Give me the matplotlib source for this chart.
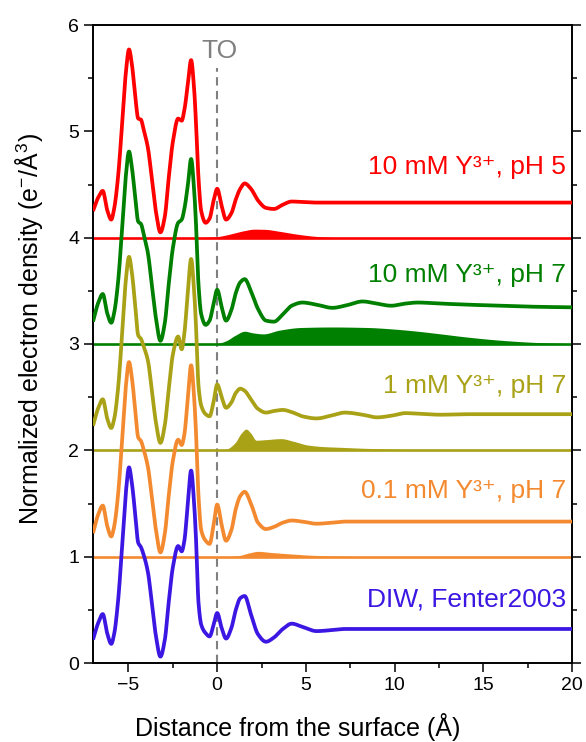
import numpy as np
import matplotlib
matplotlib.use("Agg")
import matplotlib.pyplot as plt

plt.rcParams['font.family'] = ['Liberation Sans', 'DejaVu Sans']
plt.rcParams['mathtext.fontset'] = 'custom'
plt.rcParams['mathtext.rm'] = 'Liberation Sans'
plt.rcParams['mathtext.it'] = 'Liberation Sans:italic'
plt.rcParams['mathtext.default'] = 'regular'

# ---------------- data ----------------
z = [-7.0, -6.7, -6.45, -6.2, -5.97, -5.8, -5.6, -5.32, -5.15, -4.97,
     -4.8, -4.62, -4.45, -4.3, -4.15, -3.9, -3.68, -3.45, -3.2, -2.95,
     -2.74, -2.5, -2.2, -2.0, -1.85, -1.65, -1.47, -1.3, -1.2, -1.05,
     -0.9, -0.65, -0.43, -0.2, 0.0, 0.25, 0.5, 0.8, 1.05, 1.3,
     1.55, 1.9, 2.3, 2.75, 3.2, 3.7, 4.2, 4.8, 5.6, 6.5,
     7.2, 8.2, 9.0, 9.8, 10.6, 11.3, 12.6, 14.1, 16.0, 18.0, 20.0]

rho_diw = [0.22, 0.38, 0.46, 0.28, 0.18, 0.28, 0.56, 1.19, 1.60, 1.84,
           1.68, 1.40, 1.13, 1.09, 1.02, 0.85, 0.56, 0.25, 0.06, 0.22,
           0.56, 0.90, 1.10, 1.05, 1.15, 1.51, 1.81, 1.50, 1.19, 0.56,
           0.36, 0.28, 0.25, 0.36, 0.47, 0.33, 0.23, 0.33, 0.50, 0.61,
           0.63, 0.46, 0.27, 0.20, 0.24, 0.32, 0.37, 0.34, 0.30, 0.31,
           0.32, 0.32, 0.32, 0.32, 0.32, 0.32, 0.32, 0.32, 0.32, 0.32, 0.32]

rho_01mM = [1.22, 1.40, 1.48, 1.29, 1.19, 1.29, 1.56, 2.19, 2.60, 2.83,
            2.67, 2.38, 2.12, 2.09, 2.01, 1.84, 1.55, 1.25, 1.04, 1.22,
            1.56, 1.90, 2.10, 2.05, 2.15, 2.50, 2.80, 2.50, 2.19, 1.56,
            1.25, 1.15, 1.12, 1.30, 1.49, 1.30, 1.15, 1.25, 1.45, 1.57,
            1.61, 1.50, 1.32, 1.26, 1.28, 1.32, 1.34, 1.33, 1.31, 1.32,
            1.33, 1.33, 1.33, 1.33, 1.33, 1.33, 1.33, 1.33, 1.33, 1.33, 1.33]

rho_1mM = [2.23, 2.40, 2.48, 2.30, 2.21, 2.30, 2.56, 3.19, 3.60, 3.82,
           3.66, 3.36, 3.08, 3.05, 2.98, 2.84, 2.56, 2.26, 2.07, 2.24,
           2.56, 2.90, 3.07, 2.95, 3.10, 3.50, 3.80, 3.50, 3.19, 2.60,
           2.42, 2.34, 2.32, 2.46, 2.62, 2.50, 2.40, 2.45, 2.54, 2.58,
           2.56, 2.48, 2.39, 2.355, 2.37, 2.38, 2.36, 2.32, 2.30, 2.33,
           2.355, 2.335, 2.31, 2.325, 2.35, 2.345, 2.335, 2.34, 2.34, 2.34, 2.34]

rho_10mM_pH7 = [3.21, 3.39, 3.47, 3.29, 3.20, 3.30, 3.56, 4.18, 4.58, 4.81,
                4.65, 4.38, 4.15, 4.13, 4.04, 3.85, 3.55, 3.24, 3.03, 3.20,
                3.55, 3.90, 4.14, 4.17, 4.27, 4.50, 4.74, 4.45, 4.15, 3.55,
                3.28, 3.18, 3.22, 3.38, 3.51, 3.35, 3.22, 3.32, 3.48, 3.58,
                3.61, 3.50, 3.33, 3.22, 3.21, 3.28, 3.36, 3.39, 3.37, 3.34,
                3.36, 3.40, 3.38, 3.36, 3.38, 3.39, 3.38, 3.37, 3.36, 3.35, 3.345]

rho_10mM_pH5 = [4.25, 4.38, 4.44, 4.26, 4.17, 4.28, 4.55, 5.16, 5.55, 5.77,
                5.62, 5.33, 5.12, 5.11, 5.02, 4.84, 4.55, 4.24, 4.05, 4.20,
                4.55, 4.90, 5.12, 5.10, 5.20, 5.45, 5.67, 5.40, 5.10, 4.55,
                4.25, 4.14, 4.18, 4.35, 4.46, 4.30, 4.17, 4.23, 4.36, 4.46,
                4.51, 4.46, 4.35, 4.28, 4.27, 4.31, 4.34, 4.335, 4.33, 4.33,
                4.33, 4.33, 4.33, 4.33, 4.33, 4.33, 4.33, 4.33, 4.33, 4.33, 4.33]

# Y-ion distributions (filled), heights above their baselines
z_y01 = [0.5, 1.2, 1.8, 2.3, 3.0, 4.2, 5.5, 7.0, 8.5]
y_y01 = [0.0, 0.01, 0.035, 0.05, 0.04, 0.025, 0.012, 0.004, 0.0]

z_y1 = [0.0, 0.5, 1.0, 1.35, 1.63, 1.9, 2.2, 2.7, 3.6, 4.3, 5.1, 6.0, 7.0, 8.5, 9.8, 11.5, 13.0]
y_y1 = [0.0, 0.01, 0.07, 0.16, 0.2, 0.16, 0.095, 0.10, 0.11, 0.085, 0.05, 0.035, 0.028, 0.018, 0.012, 0.004, 0.0]

z_y10_7 = [-0.5, 0.0, 0.5, 1.0, 1.55, 2.0, 2.6, 3.5, 4.7, 6.5, 8.5, 10.0, 11.3, 12.6, 14.1, 16.0, 17.9, 20.0]
y_y10_7 = [0.0, 0.005, 0.03, 0.08, 0.12, 0.105, 0.095, 0.13, 0.155, 0.16, 0.155, 0.14, 0.12, 0.095, 0.065, 0.035, 0.015, 0.003]

z_y10_5 = [-1.0, 0.0, 0.5, 1.0, 1.5, 2.1, 2.7, 3.5, 4.5, 5.5, 6.3, 7.0]
y_y10_5 = [0.0, 0.01, 0.025, 0.045, 0.065, 0.08, 0.078, 0.06, 0.033, 0.013, 0.004, 0.0]

labels = ['DIW, Fenter2003', '0.1 mM Y³⁺, pH 7', '1 mM Y³⁺, pH 7',
          '10 mM Y³⁺, pH 7', '10 mM Y³⁺, pH 5']
baselines = [0, 1, 2, 3, 4]
colors = ['#3C17E3', '#F48A30', '#A9A116', '#008000', '#FF0000']


# ---------------- helpers ----------------
def pchip(x, y, xn):
    x = np.asarray(x, float)
    y = np.asarray(y, float)
    h = np.diff(x)
    d = np.diff(y) / h
    m = np.zeros_like(y)
    for k in range(1, len(x) - 1):
        if d[k - 1] * d[k] <= 0:
            m[k] = 0.0
        else:
            w1 = 2 * h[k] + h[k - 1]
            w2 = h[k] + 2 * h[k - 1]
            m[k] = (w1 + w2) / (w1 / d[k - 1] + w2 / d[k])
    m[0] = d[0]
    m[-1] = d[-1]
    idx = np.clip(np.searchsorted(x, xn) - 1, 0, len(x) - 2)
    t = (xn - x[idx]) / h[idx]
    h00 = 2 * t**3 - 3 * t**2 + 1
    h10 = t**3 - 2 * t**2 + t
    h01 = -2 * t**3 + 3 * t**2
    h11 = t**3 - t**2
    return h00 * y[idx] + h10 * h[idx] * m[idx] + h01 * y[idx + 1] + h11 * h[idx] * m[idx + 1]


# ---------------- figure ----------------
fig = plt.figure(figsize=(5.86, 7.42), dpi=100)
ax = fig.add_axes([93 / 586, 79 / 742, 479 / 586, 638 / 742])

curves = [rho_diw, rho_01mM, rho_1mM, rho_10mM_pH7, rho_10mM_pH5]
fills = [None, (z_y01, y_y01), (z_y1, y_y1), (z_y10_7, y_y10_7), (z_y10_5, y_y10_5)]

zz = np.linspace(-7, 20, 2000)
for i, (rho, col) in enumerate(zip(curves, colors)):
    ax.plot(zz, pchip(z, rho, zz), color=col, lw=2.7, zorder=3,
            solid_capstyle='butt', solid_joinstyle='round')
    if fills[i] is not None:
        fz, fy = fills[i]
        xf = np.linspace(fz[0], fz[-1], 600)
        yf = np.clip(pchip(fz, fy, xf), 0, None)
        ax.fill_between(xf, baselines[i], baselines[i] + yf, color=col, lw=0, zorder=2)
        ax.axhline(baselines[i], color=col, lw=1.9, zorder=2)

ax.plot([0, 0], [0, 5.6], color='#808080', lw=1.5, ls=(0, (4, 2.6)), zorder=1)
ax.text(0.1, 5.76, 'TO', color='#808080', fontsize=19, ha='center', va='center')

label_y = [0.536, 1.55, 2.54, 3.58, 4.60]
for lab, col, ly in zip(labels, colors, label_y):
    ax.text(19.67, ly, lab, color=col, fontsize=19, ha='right', va='baseline')

ax.set_xlim(-7, 20)
ax.set_ylim(0, 6)
ax.set_xticks([-5, 0, 5, 10, 15, 20])
ax.set_xticks([-2.5, 2.5, 7.5, 12.5, 17.5], minor=True)
ax.set_yticks([0, 1, 2, 3, 4, 5, 6])
ax.set_yticks([0.5, 1.5, 2.5, 3.5, 4.5, 5.5], minor=True)
ax.tick_params(which='both', direction='out', width=1.1, labelsize=14,
               left=True, right=True, bottom=True, top=False)
ax.tick_params(which='major', length=6.5)
ax.tick_params(which='minor', length=3.8)
for s in ax.spines.values():
    s.set_linewidth(1.4)

ax.set_xlabel('Distance from the surface (Å)', fontsize=18)
ax.xaxis.set_label_coords((298 - 93) / 479, -0.079)
ax.set_ylabel('Normalized electron density (e$^{-}$/Å$^{3}$)', fontsize=18)
ax.yaxis.set_label_coords(-0.100, 0.524)

fig.savefig('out.png', dpi=100)
